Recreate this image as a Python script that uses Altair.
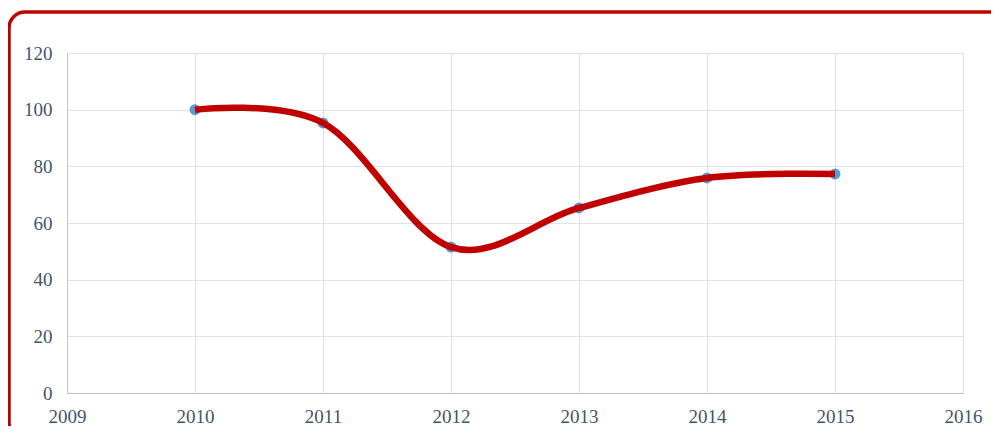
import altair as alt
import pandas as pd

years = [2010, 2011, 2012, 2013, 2014, 2015]
values = [100, 95.3, 51.5, 65.3, 75.9, 77.3]
x_ticks = [2009, 2010, 2011, 2012, 2013, 2014, 2015, 2016]
y_ticks = [0, 20, 40, 60, 80, 100, 120]

df = pd.DataFrame({"year": years, "value": values})

FONT = "Liberation Serif"
TXT = "#44546a"

x_enc = alt.X("year:Q", scale=alt.Scale(domain=[2009, 2016], nice=False, zero=False),
              axis=alt.Axis(values=x_ticks, format="d", title=None, labelPadding=14))
y_enc = alt.Y("value:Q", scale=alt.Scale(domain=[0, 120], nice=False),
              axis=alt.Axis(values=y_ticks, title=None, labelPadding=15))

frame = alt.Chart(pd.DataFrame({"a": [0]})).mark_rect(
    fillOpacity=0, stroke="#c00000", strokeWidth=3.5, cornerRadius=16, clip=False
).encode(x=alt.value(-58), x2=alt.value(945), y=alt.value(-41), y2=alt.value(386))

base = alt.Chart(df)
points = base.mark_point(filled=True, color="#5b9bd5", size=120, opacity=1).encode(x=x_enc, y=y_enc)
line = base.mark_line(color="#c00000", strokeWidth=6.5, interpolate="cardinal").encode(x=x_enc, y=y_enc)

chart = alt.layer(frame, points, line).properties(
    width=896, height=340,
    padding={"left": 59, "top": 45, "right": 28, "bottom": 33},
    autosize=alt.AutoSizeParams(type="none"),
).configure_view(stroke=None).configure(background="white").configure_axis(
    labelFont=FONT, labelFontSize=19, labelColor=TXT, ticks=False,
    domainColor="#bcc4d2", gridColor="#dce1ea", labelFlush=False,
)

chart.save("out.html", embed_options={"renderer": "svg", "actions": False})
